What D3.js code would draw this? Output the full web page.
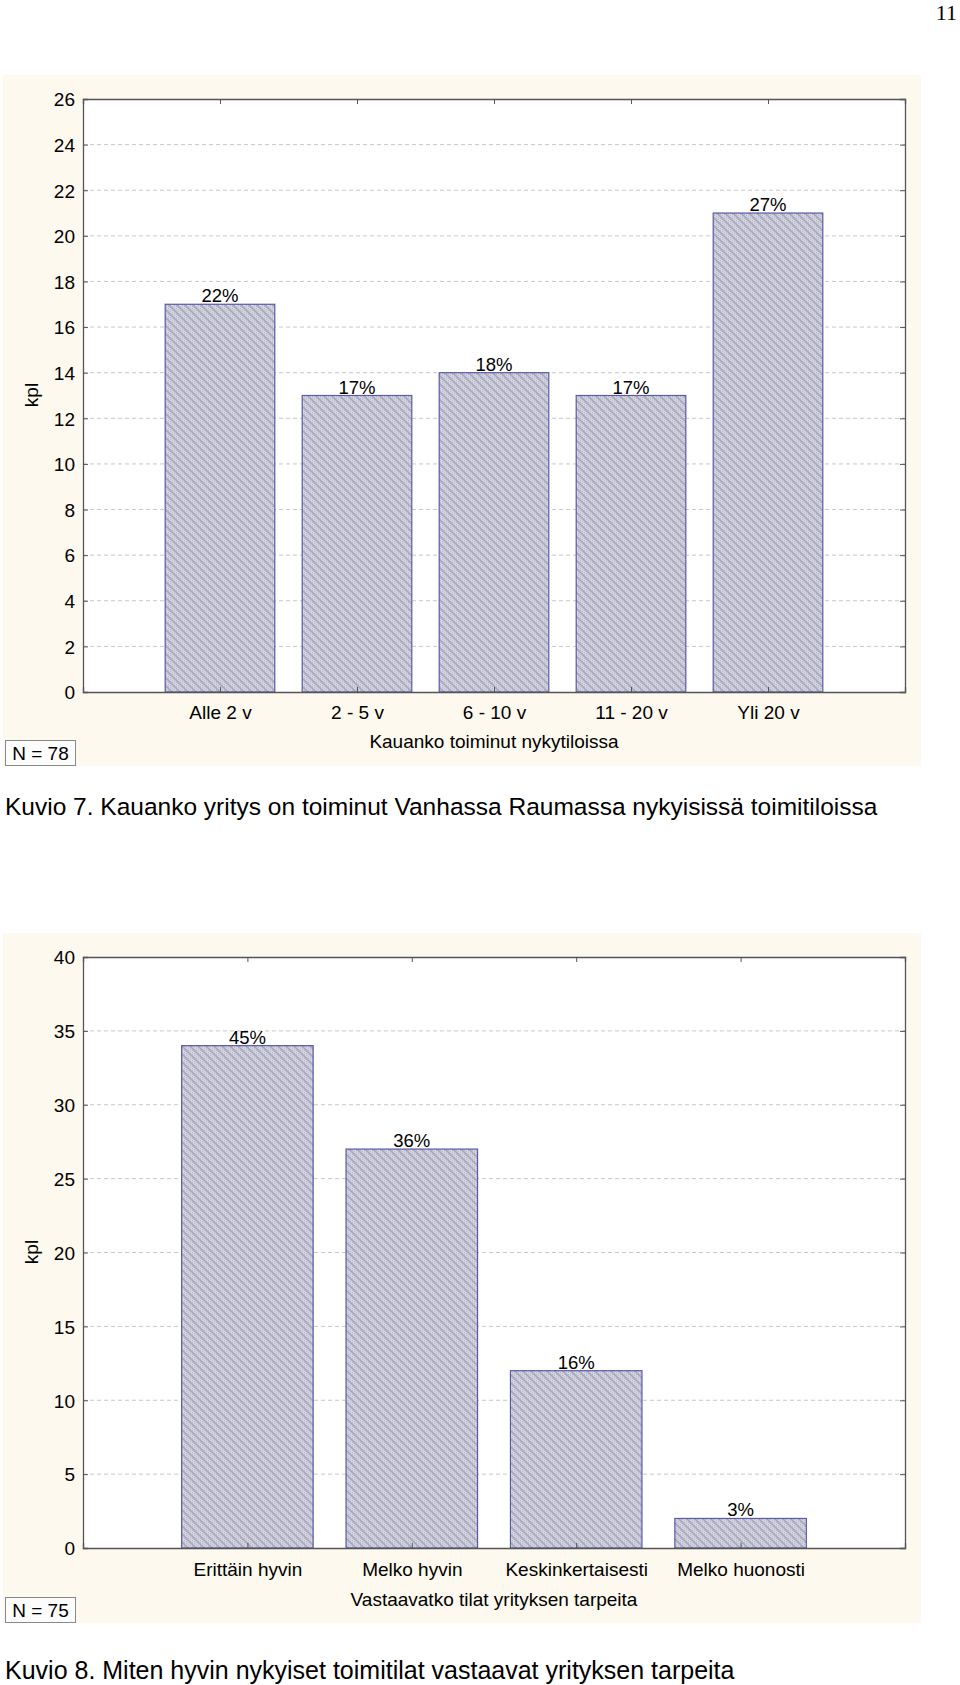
<!DOCTYPE html>
<html><head><meta charset="utf-8">
<script src="https://cdn.jsdelivr.net/npm/d3@7"></script>
<style>body{margin:0;background:#fff}svg{display:block}text{font-family:"Liberation Sans",Arial,sans-serif}</style>
</head><body>
<svg id="c" width="960" height="1685"></svg>
<script>
// Chart 1 data
const cats1 = ["Alle 2 v", "2 - 5 v", "6 - 10 v", "11 - 20 v", "Yli 20 v"];
const vals1 = [17, 13, 14, 13, 21];
const pct1 = ["22%", "17%", "18%", "17%", "27%"];
const yTicks1 = [0, 2, 4, 6, 8, 10, 12, 14, 16, 18, 20, 22, 24, 26];
const xTitle1 = "Kauanko toiminut nykytiloissa";
const n1 = "N = 78";
const caption1 = "Kuvio 7. Kauanko yritys on toiminut Vanhassa Raumassa nykyisissä toimitiloissa";
// Chart 2 data
const cats2 = ["Erittäin hyvin", "Melko hyvin", "Keskinkertaisesti", "Melko huonosti"];
const vals2 = [34, 27, 12, 2];
const pct2 = ["45%", "36%", "16%", "3%"];
const yTicks2 = [0, 5, 10, 15, 20, 25, 30, 35, 40];
const xTitle2 = "Vastaavatko tilat yrityksen tarpeita";
const n2 = "N = 75";
const caption2 = "Kuvio 8. Miten hyvin nykyiset toimitilat vastaavat yrityksen tarpeita";
const pageNum = "11";

const svg = d3.select("#c");
const defs = svg.append("defs");
const pat = defs.append("pattern").attr("id","hatch").attr("patternUnits","userSpaceOnUse").attr("width",8).attr("height",8);
pat.append("rect").attr("width",8).attr("height",8).attr("fill","#d4d4e0");
for (let i=0;i<8;i+=2) for (let j=(i/2)%2;j<8;j+=2) pat.append("rect").attr("x",i).attr("y",j).attr("width",1).attr("height",1).attr("fill","#b6b6ca");
pat.append("path").attr("d","M-2,6 L2,10 M0,0 L8,8 M6,-2 L10,2").attr("stroke","#a8a8bc").attr("stroke-width",1.6);

svg.append("text").attr("x",957).attr("y",20).attr("text-anchor","end")
  .style("font-family","'Liberation Serif','Times New Roman',serif").style("font-size","22px").text(pageNum);

const FS = "19px";
function drawChart(o) {
  const g = svg.append("g");
  g.append("rect").attr("x",3).attr("y",o.panelTop).attr("width",918).attr("height",o.panelBottom-o.panelTop).attr("fill","#fdf9ee");
  const L=83,R=905,T=o.plotTop,B=o.plotBottom;
  g.append("rect").attr("x",L).attr("y",T).attr("width",R-L).attr("height",B-T).attr("fill","#fff");
  const y = d3.scaleLinear().domain([0,o.yMax]).range([B,T]);
  const x = d3.scaleLinear().domain([0,o.cats.length+1]).range([L,R]);
  const step = x(1)-x(0), bw = step*0.8;
  // gridlines
  g.append("g").selectAll("line").data(o.yTicks.filter(d=>d>0&&d<o.yMax)).join("line")
    .attr("x1",L).attr("x2",R).attr("y1",d=>y(d)).attr("y2",d=>y(d))
    .attr("stroke","#c8c8c8").attr("stroke-dasharray","4,3").attr("stroke-width",1);
  // bars
  g.append("g").selectAll("rect").data(o.vals).join("rect")
    .attr("x",(d,i)=>x(i+1)-bw/2).attr("width",bw)
    .attr("y",d=>y(d)).attr("height",d=>B-y(d))
    .attr("fill","url(#hatch)").attr("stroke","#5a5aa8").attr("stroke-width",1.2);
  g.append("g").selectAll("text").data(o.pct).join("text")
    .attr("x",(d,i)=>x(i+1)).attr("y",(d,i)=>y(o.vals[i])-2).attr("text-anchor","middle")
    .style("font-size","18.5px").attr("fill","#000").text(d=>d);
  // axes
  const idx = d3.range(1,o.cats.length+1);
  const ax = d3.axisLeft(y).tickValues(o.yTicks).tickSize(-5).tickPadding(8).tickFormat(d3.format("d"));
  const gl = g.append("g").attr("transform",`translate(${L},0)`).call(ax);
  const gr = g.append("g").attr("transform",`translate(${R},0)`).call(d3.axisRight(y).tickValues(o.yTicks).tickSize(-5).tickFormat(""));
  const gt = g.append("g").attr("transform",`translate(0,${T})`).call(d3.axisTop(x).tickValues(idx).tickSize(-5).tickFormat(""));
  const gb = g.append("g").attr("transform",`translate(0,${B})`).call(d3.axisBottom(x).tickValues(idx).tickSize(-5).tickPadding(26).tickFormat(i=>o.cats[i-1]));
  [gl,gr,gt,gb].forEach(a=>{
    a.select(".domain").attr("stroke","#555").attr("stroke-width",1.3);
    a.selectAll(".tick line").attr("stroke","#555");
    a.selectAll("text").style("font-size",FS).attr("fill","#000").style("font-family","'Liberation Sans',Arial,sans-serif");
  });
  gl.selectAll(".tick line").attr("x2",5);
  gl.selectAll(".tick text").attr("dy","0.36em");
  gb.selectAll(".tick text").attr("dy","0").attr("y",o.xLabY-B);
  g.append("text").attr("x",(L+R)/2).attr("y",o.xTitleY).attr("text-anchor","middle").style("font-size",FS).text(o.xTitle);
  g.append("text").attr("transform",`translate(38,${o.kplY}) rotate(-90)`).attr("text-anchor","middle").style("font-size",FS).text("kpl");
  g.append("rect").attr("x",5.5).attr("y",o.nTop+0.5).attr("width",70).attr("height",25).attr("fill","#fcfcfc").attr("stroke","#888");
  g.append("text").attr("x",40.5).attr("y",o.nTop+19.5).attr("text-anchor","middle").style("font-size",FS).text(o.n);
  g.append("text").attr("x",5).attr("y",o.capY).style("font-size",o.capFs).text(o.caption);
}

drawChart({panelTop:75,panelBottom:766,plotTop:99,plotBottom:692,yMax:26,yTicks:yTicks1,cats:cats1,vals:vals1,pct:pct1,
  xLabY:719,xTitleY:748,xTitle:xTitle1,kplY:395,nTop:740,n:n1,capY:815,caption:caption1,capFs:"24.5px"});
drawChart({panelTop:933,panelBottom:1623,plotTop:957,plotBottom:1548,yMax:40,yTicks:yTicks2,cats:cats2,vals:vals2,pct:pct2,
  xLabY:1576,xTitleY:1606,xTitle:xTitle2,kplY:1252,nTop:1597,n:n2,capY:1679,caption:caption2,capFs:"25px"});
</script>
</body></html>
